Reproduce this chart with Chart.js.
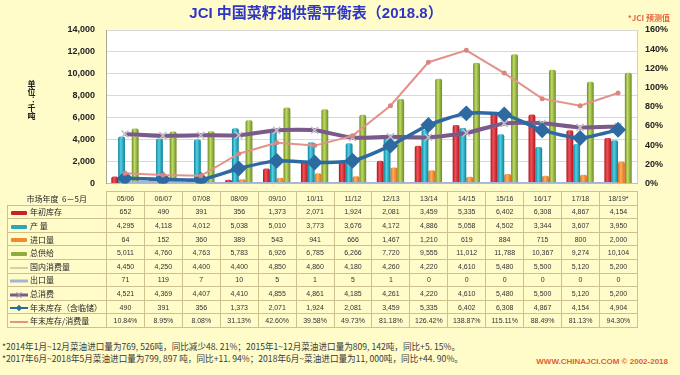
<!DOCTYPE html>
<html>
<head>
<meta charset="utf-8">
<title>JCI 中国菜籽油供需平衡表</title>
<script src="https://cdn.jsdelivr.net/npm/chart.js@4.4.1/dist/chart.umd.min.js"></script>
<style>
  html, body { margin: 0; padding: 0; background: #fffcca; }
  #page { position: relative; width: 680px; height: 375px; overflow: hidden; background: #fffcca; font-family: 'Liberation Sans', Arial, sans-serif; }
  #chart { position: absolute; left: 0; top: 0; }
  #title { position: absolute; left: 0; width: 632px; top: 1px; text-align: center; font: bold 15px 'Liberation Sans', 'Noto Sans CJK SC', sans-serif; color: #2d35c9; white-space: nowrap; }
  #forecast { position: absolute; right: 10px; top: 12px; font: bold 8px 'Noto Sans CJK SC', sans-serif; color: #ee5f3c; }
  #unit { position: absolute; left: 26px; top: 80px; writing-mode: vertical-rl; text-orientation: upright; font: bold 8px 'Noto Sans CJK SC', sans-serif; color: #222; line-height: 10px; }
  #tbl { position: absolute; left: 7px; top: 191px; width: 630px; border-collapse: collapse; table-layout: fixed; }
  #tbl td { border: 1px solid #cdc28f; height: 12.6px; padding: 0; text-align: center; font: 7px 'Liberation Sans', Arial, sans-serif; color: #333; white-space: nowrap; overflow: hidden; }
  #tbl td.name { text-align: left; padding-left: 2px; font: 8px 'Noto Sans CJK SC', sans-serif; color: #222; }
  #tbl td.corner { border-top: none; border-left: none; text-align: center; font: 8px 'Noto Sans CJK SC', sans-serif; color: #222; }
  #tbl svg { vertical-align: middle; margin-right: 2px; }
  .note { position: absolute; left: 2px; font: 8.6px 'Noto Sans CJK SC', sans-serif; color: #3a3a3a; white-space: nowrap; }
  #site { position: absolute; right: 12px; top: 357px; font: bold 8px 'Liberation Sans', Arial, sans-serif; color: #e2602e; }
</style>
</head>
<body>
<div id="page">
  <canvas id="chart" width="680" height="200"></canvas>
  <div id="title">JCI 中国菜籽油供需平衡表（2018.8）</div>
  <div id="forecast">*JCI 预测值</div>
  <div id="unit">单位：千吨</div>
  <table id="tbl"></table>
  <div class="note" style="top:340px">*2014年1月~12月菜油进口量为769, 526吨，同比减少48. 21%；2015年1~12月菜油进口量为809, 142吨，同比+5. 15%。</div>
  <div class="note" style="top:352px">*2017年6月~2018年5月菜油进口量为799, 897 吨，同比+11. 94%；2018年6月~菜油进口量为11, 000吨，同比+44. 90%。</div>
  <div id="site">WWW.CHINAJCI.COM © 2002-2018</div>
</div>
<script>
const seasons = ['05/06', '06/07', '07/08', '08/09', '09/10', '10/11', '11/12', '12/13', '13/14', '14/15', '15/16', '16/17', '17/18', '18/19*'];

const openingStock = [652, 490, 391, 356, 1373, 2071, 1924, 2081, 3459, 5335, 6402, 6308, 4867, 4154];
const production   = [4295, 4118, 4012, 5038, 5010, 3773, 3676, 4172, 4886, 5058, 4502, 3344, 3607, 3950];
const imports      = [64, 152, 360, 389, 543, 941, 666, 1467, 1210, 619, 884, 715, 800, 2000];
const totalSupply  = [5011, 4760, 4763, 5783, 6926, 6785, 6266, 7720, 9555, 11012, 11788, 10367, 9274, 10104];
const domesticUse  = [4450, 4250, 4400, 4400, 4850, 4860, 4180, 4260, 4220, 4610, 5480, 5500, 5120, 5200];
const exportsQty   = [71, 119, 7, 10, 5, 1, 5, 1, 0, 0, 0, 0, 0, 0];
const totalUse     = [4521, 4369, 4407, 4410, 4855, 4861, 4185, 4261, 4220, 4610, 5480, 5500, 5120, 5200];
const endingStock  = [490, 391, 356, 1373, 2071, 1924, 2081, 3459, 5335, 6402, 6308, 4867, 4154, 4904];
const stockRatio   = [10.84, 8.95, 8.08, 31.13, 42.60, 39.58, 49.73, 81.18, 126.42, 138.87, 115.11, 88.49, 81.13, 94.30];

const leftTicks = [0, 2000, 4000, 6000, 8000, 10000, 12000, 14000];
const rightTicks = [0, 20, 40, 60, 80, 100, 120, 140, 160];

// cylinder-ish shading for the bars
function barFill(dark, light) {
    return function (context) {
        const meta = context.chart.getDatasetMeta(context.datasetIndex);
        const el = meta.data[context.dataIndex];
        if (!el || !isFinite(el.x) || !isFinite(el.width)) return dark;
        const c = context.chart.ctx;
        const g = c.createLinearGradient(el.x - el.width / 2, 0, el.x + el.width / 2, 0);
        g.addColorStop(0, dark);
        g.addColorStop(0.4, light);
        g.addColorStop(1, dark);
        return g;
    };
}

const plotBackground = {
    id: 'plotBackground',
    beforeDraw(chart) {
        const { ctx, chartArea: a } = chart;
        ctx.save();
        ctx.fillStyle = '#ffffff';
        ctx.fillRect(a.left, a.top, a.width, a.height);
        ctx.restore();
    }
};

const barCommon = {
    type: 'bar',
    yAxisID: 'y',
    order: 10,
    categoryPercentage: 0.72,
    barPercentage: 1.0,
    borderRadius: { topLeft: 2, topRight: 2 }
};

const ctx = document.getElementById('chart').getContext('2d');
const chart = new Chart(ctx, {
    data: {
        labels: seasons,
        datasets: [
            { ...barCommon, label: '年初库存', data: openingStock, backgroundColor: barFill('#b0141f', '#f05256') },
            { ...barCommon, label: '产 量', data: production, backgroundColor: barFill('#0f8197', '#52d0e4') },
            { ...barCommon, label: '进口量', data: imports, backgroundColor: barFill('#dc6c18', '#ffb060') },
            { ...barCommon, label: '总供给', data: totalSupply, backgroundColor: barFill('#6b8a22', '#c0dc66') },
            {
                type: 'line', label: '国内消费量', data: domesticUse, yAxisID: 'y', order: 5,
                borderColor: '#d3d2a6', borderWidth: 3, pointRadius: 0
            },
            {
                type: 'line', label: '出口量', data: exportsQty, yAxisID: 'y', order: 4,
                borderColor: '#a3b5d6', borderWidth: 3, pointRadius: 0
            },
            {
                type: 'line', label: '总消费', data: totalUse, yAxisID: 'y', order: 3,
                borderColor: '#7a5a89', borderWidth: 4, tension: 0.2,
                pointStyle: 'crossRot', pointRadius: 5, pointBorderColor: '#c4c0c8', pointBorderWidth: 1.5
            },
            {
                type: 'line', label: '年末库存（含临储）', data: endingStock, yAxisID: 'y', order: 2,
                borderColor: '#2e6aa2', borderWidth: 3.5, tension: 0.2,
                pointStyle: 'rectRot', pointRadius: 5.5, pointBackgroundColor: '#2e6aa2', pointBorderColor: '#2e6aa2'
            },
            {
                type: 'line', label: '年末库存/消费量', data: stockRatio, yAxisID: 'y1', order: 1,
                borderColor: '#e3928b', borderWidth: 2,
                pointRadius: 1.5, pointBackgroundColor: '#d88680', pointBorderColor: '#d88680'
            }
        ]
    },
    options: {
        responsive: false,
        animation: false,
        layout: { padding: { top: 30, bottom: 9, left: 0, right: 0 } },
        plugins: {
            legend: { display: false },
            tooltip: { enabled: false },
            title: { display: false }
        },
        scales: {
            x: {
                offset: true,
                grid: { display: false },
                border: { display: true, color: '#cdc28f' },
                ticks: { display: false },
                afterFit(scale) { scale.height = 0; }
            },
            y: {
                position: 'left',
                min: 0,
                max: 14000,
                afterBuildTicks(scale) { scale.ticks = leftTicks.map(v => ({ value: v })); },
                afterFit(scale) { scale.width = 106; },
                grid: { color: '#d8d8d8', drawTicks: false },
                border: { color: '#a9a98c' },
                ticks: {
                    padding: 11,
                    color: '#222',
                    font: { family: "'Liberation Sans', Arial, sans-serif", size: 9, weight: 'bold' },
                    callback: v => v.toLocaleString('en-US')
                }
            },
            y1: {
                position: 'right',
                min: 0,
                max: 160,
                afterBuildTicks(scale) { scale.ticks = rightTicks.map(v => ({ value: v })); },
                afterFit(scale) { scale.width = 43; },
                grid: { display: false, drawTicks: false },
                border: { color: '#d0d0d0' },
                ticks: {
                    padding: 8,
                    color: '#222',
                    font: { family: "'Liberation Sans', Arial, sans-serif", size: 9, weight: 'bold' },
                    callback: v => v + '%'
                }
            }
        }
    },
    plugins: [plotBackground]
});
// second pass so the bar gradients know where each bar sits
chart.update('none');

// data table under the plot
function swatch(kind, color) {
    let inner = '';
    if (kind === 'bar') {
        inner = `<rect x="1" y="2" width="16" height="4" rx="1" fill="${color}"/>`;
    } else if (kind === 'cross') {
        inner = `<line x1="0" y1="4" x2="18" y2="4" stroke="${color}" stroke-width="3"/>` +
            `<path d="M6.5 1.5 L11.5 6.5 M11.5 1.5 L6.5 6.5" stroke="#9a8aa4" stroke-width="1.2"/>`;
    } else if (kind === 'diamond') {
        inner = `<line x1="0" y1="4" x2="18" y2="4" stroke="${color}" stroke-width="2"/>` +
            `<path d="M9 0.8 L12.2 4 L9 7.2 L5.8 4 Z" fill="${color}"/>`;
    } else {
        inner = `<line x1="0" y1="4" x2="18" y2="4" stroke="${color}" stroke-width="${kind === 'thick' ? 3 : 2}"/>`;
    }
    return `<svg width="18" height="8" viewBox="0 0 18 8">${inner}</svg>`;
}

const fmt = v => v.toLocaleString('en-US');
const tableRows = [
    { name: '年初库存', values: openingStock, kind: 'bar', color: '#c8202c', text: fmt },
    { name: '产 量', values: production, kind: 'bar', color: '#2aa7bd', text: fmt },
    { name: '进口量', values: imports, kind: 'bar', color: '#ef8a32', text: fmt },
    { name: '总供给', values: totalSupply, kind: 'bar', color: '#8fab3e', text: fmt },
    { name: '国内消费量', values: domesticUse, kind: 'line', color: '#d3d2a6', text: fmt },
    { name: '出口量', values: exportsQty, kind: 'thick', color: '#a3b5d6', text: fmt },
    { name: '总消费', values: totalUse, kind: 'cross', color: '#7a5a89', text: fmt },
    { name: '年末库存（含临储）', values: endingStock, kind: 'diamond', color: '#2e6aa2', text: fmt },
    { name: '年末库存/消费量', values: stockRatio, kind: 'line', color: '#e3928b', text: v => v.toFixed(2) + '%' }
];

const firstCol = 99;
const colW = (630 - firstCol) / seasons.length;
let html = '<colgroup><col style="width:' + firstCol + 'px">' +
    seasons.map(() => '<col style="width:' + colW + 'px">').join('') + '</colgroup>';
html += '<tr><td class="corner">市场年度&nbsp; 6－5月</td>' + seasons.map(s => '<td>' + s + '</td>').join('') + '</tr>';
tableRows.forEach(r => {
    html += '<tr><td class="name">' + swatch(r.kind, r.color) + r.name + '</td>' +
        r.values.map(v => '<td>' + r.text(v) + '</td>').join('') + '</tr>';
});
document.getElementById('tbl').innerHTML = html;
</script>
</body>
</html>
